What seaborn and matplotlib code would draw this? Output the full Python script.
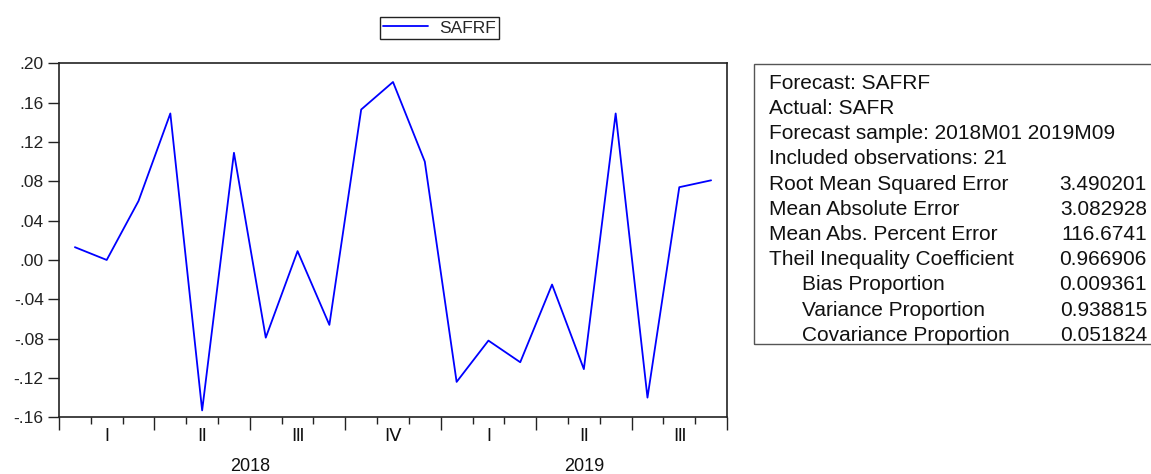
import matplotlib
matplotlib.use("Agg")
import matplotlib.pyplot as plt
from matplotlib.patches import Rectangle
from matplotlib.ticker import FixedLocator, FuncFormatter
import seaborn as sns
import pandas as pd

# ---- data ----
months = ["2018M01", "2018M02", "2018M03", "2018M04", "2018M05", "2018M06",
          "2018M07", "2018M08", "2018M09", "2018M10", "2018M11", "2018M12",
          "2019M01", "2019M02", "2019M03", "2019M04", "2019M05", "2019M06",
          "2019M07", "2019M08", "2019M09"]
safrf = [0.013, 0.000, 0.060, 0.149, -0.153, 0.109, -0.079, 0.009, -0.066,
         0.153, 0.181, 0.100, -0.124, -0.082, -0.104, -0.025, -0.111, 0.149,
         -0.140, 0.074, 0.081]
quarter_labels = ["I", "\u2161", "\u2162", "\u2163", "I", "\u2161", "\u2162"]
years = ["2018", "2019"]
yticks = [-0.16, -0.12, -0.08, -0.04, 0.00, 0.04, 0.08, 0.12, 0.16, 0.20]
stat_labels = ["Forecast: SAFRF", "Actual: SAFR",
               "Forecast sample: 2018M01 2019M09", "Included observations: 21",
               "Root Mean Squared Error", "Mean Absolute Error",
               "Mean Abs. Percent Error", "Theil Inequality Coefficient",
               "Bias Proportion", "Variance Proportion", "Covariance Proportion"]
stat_values = ["", "", "", "", "3.490201", "3.082928", "116.6741", "0.966906",
               "0.009361", "0.938815", "0.051824"]
stat_indent = [False] * 8 + [True] * 3

df = pd.DataFrame({"idx": range(len(months)), "month": months, "SAFRF": safrf})

sns.set_style("ticks")
plt.rcParams["font.family"] = ["Liberation Sans", "DejaVu Sans"]

W, H = 1151, 474
fig = plt.figure(figsize=(W / 100, H / 100), dpi=100)
ax = fig.add_axes([59 / W, 1 - 417.3 / H, (727 - 59) / W, (417.3 - 63.3) / H])

sns.lineplot(data=df, x="idx", y="SAFRF", ax=ax, color="#0000FF", lw=1.3,
             label="SAFRF", legend=False)

n = len(months)
ax.set_xlim(-0.5, n - 0.5)
ax.set_ylim(-0.16, 0.20)
ax.set_xlabel("")
ax.set_ylabel("")

# y axis
ax.yaxis.set_major_locator(FixedLocator(yticks))
def yfmt(v, pos):
    s = f"{v:.2f}"
    s = s.replace("0.", ".", 1) if s.startswith("0.") else s.replace("-0.", "-.", 1)
    return s
ax.yaxis.set_major_formatter(FuncFormatter(yfmt))
ax.tick_params(axis="y", direction="out", length=8, width=1, labelsize=12.5,
               colors="#222222", left=True, right=False, pad=3)

# x axis: month boundaries minor, quarter boundaries major
bounds = [i - 0.5 for i in range(n + 1)]
qbounds = [b for k, b in enumerate(bounds) if k % 3 == 0]
ax.xaxis.set_major_locator(FixedLocator(qbounds))
ax.xaxis.set_minor_locator(FixedLocator(bounds))
ax.set_xticklabels([])
ax.tick_params(axis="x", which="major", direction="out", length=9, width=1,
               colors="#222222", bottom=True, top=False)
ax.tick_params(axis="x", which="minor", direction="out", length=5, width=1,
               colors="#222222", bottom=True, top=False)

trans = ax.get_xaxis_transform()
for k, lab in enumerate(quarter_labels):
    ax.text(3 * k + 1, -0.055, lab, transform=trans, ha="center", va="center",
            fontsize=13, color="#111111")
year_centers = [5.5, 16.0]
for yc, yl in zip(year_centers, years):
    ax.text(yc, -0.14, yl, transform=trans, ha="center", va="center",
            fontsize=13, color="#111111")

for s in ax.spines.values():
    s.set_visible(True)
    s.set_color("#222222")
    s.set_linewidth(1.2)

# legend
handles, labels = ax.get_legend_handles_labels()
fig.legend(handles, labels, loc="center", bbox_to_anchor=(439.5 / W, 1 - 28 / H),
           frameon=True, fancybox=False, edgecolor="#222222", framealpha=1,
           fontsize=12.5, handlelength=2.6, borderpad=0.2, handletextpad=0.6,
           borderaxespad=0)

# stats box
fig.add_artist(Rectangle((754 / W, 1 - 344 / H), (1165 - 754) / W, (344 - 64.3) / H,
                         transform=fig.transFigure, fill=False,
                         edgecolor="#555555", lw=1.0, clip_on=False))
y0, dy = 83.3, 25.2
for i, (lab, val, ind) in enumerate(zip(stat_labels, stat_values, stat_indent)):
    yy = 1 - (y0 + i * dy) / H
    fig.text((802 if ind else 769) / W, yy, lab, ha="left", va="center",
             fontsize=15, color="#111111")
    if val:
        fig.text(1147 / W, yy, val, ha="right", va="center", fontsize=15,
                 color="#111111")

fig.savefig("out.png", dpi=100)
